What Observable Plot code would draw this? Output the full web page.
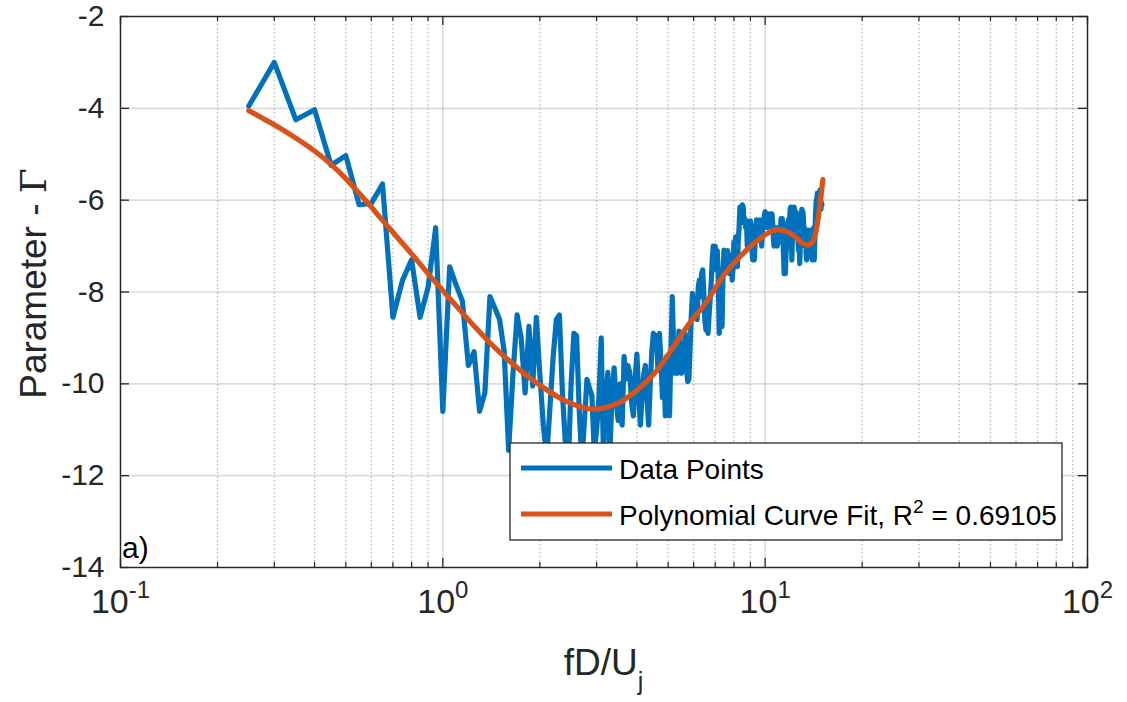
<!DOCTYPE html>
<html>
<head>
<meta charset="utf-8">
<script src="https://cdn.jsdelivr.net/npm/d3@7"></script>
<script src="https://cdn.jsdelivr.net/npm/@observablehq/plot@0.6"></script>
<style>
  html, body { margin: 0; padding: 0; background: #fff; }
  #chart svg { display: block; }
</style>
</head>
<body>
<div id="chart"></div>
<script>
// ---------- data ----------
const freq = [
  0.25,0.3,0.35,0.4,0.45,0.5,0.55,0.6,0.65,0.7,0.75,0.8,0.85,0.9,0.95,
  1,1.05,1.1,1.15,1.2,1.25,1.3,1.35,1.4,1.45,1.5,1.55,1.6,1.65,1.7,1.75,1.8,1.85,1.9,1.95,
  2,2.05,2.1,2.15,2.2,2.25,2.3,2.35,2.4,2.45,2.5,2.55,2.6,2.65,2.7,2.75,2.8,2.85,2.9,2.95,
  3,3.05,3.1,3.15,3.2,3.25,3.3,3.35,3.4,3.45,3.5,3.55,3.6,3.65,3.7,3.75,3.8,3.85,3.9,3.95,
  4,4.05,4.1,4.15,4.2,4.25,4.3,4.35,4.4,4.45,4.5,4.55,4.6,4.65,4.7,4.75,4.8,4.85,4.9,4.95,
  5,5.05,5.1,5.15,5.2,5.25,5.3,5.35,5.4,5.45,5.5,5.55,5.6,5.65,5.7,5.75,5.8,5.85,5.9,5.95,
  6,6.05,6.1,6.15,6.2,6.25,6.3,6.35,6.4,6.45,6.5,6.55,6.6,6.65,6.7,6.75,6.8,6.85,6.9,6.95,
  7,7.05,7.1,7.15,7.2,7.25,7.3,7.35,7.4,7.45,7.5,7.55,7.6,7.65,7.7,7.75,7.8,7.85,7.9,7.95,
  8,8.05,8.1,8.15,8.2,8.25,8.3,8.35,8.4,8.45,8.5,8.55,8.6,8.65,8.7,8.75,8.8,8.85,8.9,8.95,
  9,9.05,9.1,9.15,9.2,9.25,9.3,9.35,9.4,9.45,9.5,9.55,9.6,9.65,9.7,9.75,9.8,9.85,9.9,9.95,
  10,10.05,10.1,10.15,10.2,10.25,10.3,10.35,10.4,10.45,10.5,10.55,10.6,10.65,10.7,10.75,10.8,10.85,10.9,10.95,
  11,11.05,11.1,11.15,11.2,11.25,11.3,11.35,11.4,11.45,11.5,11.55,11.6,11.65,11.7,11.75,11.8,11.85,11.9,11.95,
  12,12.05,12.1,12.15,12.2,12.25,12.3,12.35,12.4,12.45,12.5,12.55,12.6,12.65,12.7,12.75,12.8,12.85,12.9,12.95,
  13,13.05,13.1,13.15,13.2,13.25,13.3,13.35,13.4,13.45,13.5,13.55,13.6,13.65,13.7,13.75,13.8,13.85,13.9,13.95,
  14,14.05,14.1,14.15,14.2,14.25,14.3,14.35,14.4,14.45,14.5,14.55,14.6,14.65,14.7,14.75,14.8,14.85,14.9,14.95,
  15
];
const gamma = [
  -3.95,-3.0,-4.25,-4.03,-5.24,-5.03,-6.1,-6.07,-5.65,-8.55,-7.74,-7.3,-8.55,-7.9,-6.6,
  -10.6,-7.45,-7.85,-8.2,-9.6,-9.3,-10.6,-10.2,-8.1,-8.35,-8.6,-9.3,-11.45,-9.8,-8.5,-9.0,-10.2,-8.75,-10.05,-8.55,
  -9.8,-10.9,-11.6,-10.5,-9.4,-8.6,-8.5,-10.2,-11.3,-11.8,-10.0,-8.9,-8.95,-10.6,-11.7,-10.8,-9.9,-10.1,-10.25,-11.5,
  -11.0,-10.3,-9.0,-11.6,-10.4,-9.75,-11.5,-10.2,-9.65,-10.4,-10.8,-10.0,-10.9,-9.4,-9.9,-9.6,-9.75,-10.4,-10.7,-9.9,
  -9.35,-10.2,-10.9,-10.3,-9.8,-9.6,-10.3,-10.9,-10.0,-9.3,-8.9,-9.1,-8.95,-9.7,-8.9,-9.5,-10.3,-9.6,-10.7,-9.4,
  -10.0,-10.7,-9.3,-8.1,-9.2,-9.77,-9.5,-9.77,-8.85,-9.3,-9.77,-9.2,-9.48,-8.9,-9.7,-9.95,-9.9,-9.2,-8.5,-8.03,
  -8.4,-8.46,-8.2,-8.6,-7.9,-7.74,-8.1,-7.6,-7.52,-8.0,-8.6,-8.83,-8.3,-8.9,-8.5,-8.17,-7.8,-7.3,-7.0,-7.5,
  -7.0,-7.4,-7.1,-7.6,-8.9,-8.5,-8.0,-8.75,-7.6,-7.09,-7.3,-7.2,-7.45,-7.1,-7.3,-7.6,-7.45,-7.2,-7.74,-7.5,
  -6.9,-7.1,-6.8,-7.2,-7.45,-6.9,-6.6,-6.15,-6.4,-6.2,-6.1,-6.15,-6.5,-6.4,-6.6,-6.45,-7.0,-6.8,-6.5,-6.7,
  -6.45,-6.6,-7.1,-7.3,-6.9,-7.3,-7.0,-6.6,-6.43,-6.6,-6.45,-6.7,-6.5,-6.43,-6.8,-7.0,-6.7,-6.5,-6.6,-6.3,
  -6.25,-6.4,-6.3,-6.6,-6.35,-6.5,-6.3,-6.45,-6.3,-6.6,-6.3,-6.5,-6.8,-7.0,-6.7,-6.9,-6.6,-6.8,-7.0,-6.9,
  -6.8,-6.6,-6.9,-6.7,-6.4,-6.55,-6.4,-6.8,-7.2,-7.6,-7.5,-7.6,-7.2,-7.0,-6.5,-6.6,-6.43,-6.7,-6.5,-6.2,
  -6.15,-6.5,-7.3,-6.8,-6.2,-6.4,-6.15,-6.3,-6.5,-6.25,-6.3,-6.6,-6.4,-6.9,-7.1,-6.8,-7.38,-7.0,-6.6,-6.3,
  -6.2,-6.5,-6.25,-6.45,-6.8,-6.6,-7.0,-6.8,-7.2,-7.3,-7.0,-7.25,-6.9,-6.65,-7.0,-7.23,-6.8,-7.1,-6.65,-6.9,
  -7.3,-7.0,-7.25,-6.6,-7.3,-6.9,-6.5,-6.2,-6.0,-6.1,-5.85,-6.0,-5.9,-6.1,-5.82,-5.95,-5.78,-6.0,-6.2,-6.05,
  -6.1
];
const fitFreq = [0.25,0.3,0.35,0.4,0.45,0.5,0.55,0.6,0.65,0.7,0.8,0.9,1.0,1.1,1.25,1.5,1.75,2.0,2.4,2.9,
  3.5,4.0,4.6,5.3,5.8,6.6,7.5,8.3,9.2,10.3,10.9,11.8,12.5,13.0,13.6,14.0,14.3,14.6,14.85,15.1];
const fitGamma = [-4.05,-4.36,-4.65,-4.93,-5.22,-5.53,-5.85,-6.15,-6.44,-6.7,-7.17,-7.6,-7.97,-8.3,-8.74,-9.31,-9.72,-10.03,-10.37,-10.55,
  -10.42,-10.14,-9.72,-9.1,-8.7,-8.2,-7.6,-7.25,-6.95,-6.7,-6.64,-6.7,-6.82,-6.93,-6.98,-6.92,-6.75,-6.4,-6.0,-5.55];

const xMajor = [0.1, 1, 10, 100];
const xMinor = [0.2,0.3,0.4,0.5,0.6,0.7,0.8,0.9, 2,3,4,5,6,7,8,9, 20,30,40,50,60,70,80,90];
const yTicks = [-14, -12, -10, -8, -6, -4, -2];
const seriesNames = ["Data Points", "Polynomial Curve Fit, R"];
const rSquared = "0.69105";
const seriesColors = ["#0072BD", "#D95319"];
const panelTag = "a)";

// ---------- chart ----------
const W = 1127, H = 702;
const mL = 120, mR = 40, mT = 16, mB = 135;
const innerW = W - mL - mR, innerH = H - mT - mB;
const ink = "#262626";
const fontFamily = "'Liberation Sans', Arial, Helvetica, sans-serif";

const data = freq.map((f, i) => ({f, g: gamma[i]}));
const fit = fitFreq.map((f, i) => ({f, g: fitGamma[i]}));

const chart = Plot.plot({
  width: W, height: H,
  marginLeft: mL, marginRight: mR, marginTop: mT, marginBottom: mB,
  style: {fontFamily, fontSize: "30px", color: ink, background: "#fff", overflow: "visible"},
  x: {type: "log", domain: [0.1, 100], label: null},
  y: {domain: [-14, -2], label: null},
  marks: [
    Plot.gridX(xMinor, {stroke: ink, strokeOpacity: 0.35, strokeWidth: 1.2, strokeDasharray: "1.5,2.5"}),
    Plot.gridX(xMajor, {stroke: ink, strokeOpacity: 0.16, strokeWidth: 1.6}),
    Plot.gridY(yTicks, {stroke: ink, strokeOpacity: 0.16, strokeWidth: 1.6}),
    Plot.line(data, {x: "f", y: "g", stroke: seriesColors[0], strokeWidth: 5.2, strokeLinejoin: "round"}),
    Plot.line(fit, {x: "f", y: "g", stroke: seriesColors[1], strokeWidth: 5.2, curve: "catmull-rom"}),
    // inward tick marks on all four sides
    Plot.tickX(xMajor, {x: d => d, stroke: ink, strokeWidth: 1.3, insetTop: innerH - 9}),
    Plot.tickX(xMajor, {x: d => d, stroke: ink, strokeWidth: 1.3, insetBottom: innerH - 9}),
    Plot.tickX(xMinor, {x: d => d, stroke: ink, strokeWidth: 1.2, insetTop: innerH - 5}),
    Plot.tickX(xMinor, {x: d => d, stroke: ink, strokeWidth: 1.2, insetBottom: innerH - 5}),
    Plot.tickY(yTicks, {y: d => d, stroke: ink, strokeWidth: 1.3, insetRight: innerW - 9}),
    Plot.tickY(yTicks, {y: d => d, stroke: ink, strokeWidth: 1.3, insetLeft: innerW - 9}),
    // tick labels
    Plot.axisX(xMajor, {anchor: "bottom", tickSize: 0, tickPadding: 21, fontSize: 34, label: null,
      tickFormat: d => String(Math.round(Math.log10(d)))}),
    Plot.axisY(yTicks, {anchor: "left", tickSize: 0, tickPadding: 16, fontSize: 30, label: null,
      tickFormat: d => String(d)}),
    Plot.frame({stroke: ink, strokeWidth: 1.4})
  ]
});
document.getElementById("chart").append(chart);

const svg = d3.select(chart);

// superscript exponents on the log axis labels
svg.selectAll('g[aria-label="x-axis tick label"] text').each(function () {
  const e = this.textContent;
  const t = d3.select(this);
  t.text(null);
  t.append("tspan").text("10");
  t.append("tspan").attr("dy", -15).attr("font-size", "24px").text(e);
});

// axis titles
const yl = svg.append("text")
  .attr("transform", `translate(46,${mT + innerH / 2 - 8}) rotate(-90)`)
  .attr("text-anchor", "middle")
  .attr("font-family", fontFamily).attr("font-size", 37).attr("fill", ink);
yl.append("tspan").text("Parameter - ");
yl.append("tspan").attr("font-family", "'DejaVu Serif', 'Liberation Serif', serif").attr("font-size", 36).text("Γ");

const xl = svg.append("text")
  .attr("x", mL + innerW / 2).attr("y", 675)
  .attr("text-anchor", "middle")
  .attr("font-family", fontFamily).attr("font-size", 37).attr("fill", ink);
xl.append("tspan").text("fD/U");
xl.append("tspan").attr("dy", 15).attr("font-size", 25).text("j");

// panel tag
svg.append("text").attr("x", mL + 2).attr("y", mT + innerH - 9)
  .attr("text-anchor", "start")
  .attr("font-family", fontFamily).attr("font-size", 30).attr("fill", "#000").text(panelTag);

// legend box
const lg = svg.append("g").attr("font-family", fontFamily).attr("font-size", 28)
  .attr("fill", "#000").attr("text-anchor", "start");
lg.append("rect").attr("x", 510).attr("y", 443).attr("width", 552).attr("height", 97)
  .attr("fill", "#fff").attr("stroke", ink).attr("stroke-width", 1.3);
const rowsY = [468, 514];
seriesNames.forEach((name, i) => {
  lg.append("line").attr("x1", 521).attr("x2", 612).attr("y1", rowsY[i]).attr("y2", rowsY[i])
    .attr("stroke", seriesColors[i]).attr("stroke-width", 5);
  const t = lg.append("text").attr("x", 619).attr("y", rowsY[i] + 11).attr("text-anchor", "start");
  t.append("tspan").text(name);
  if (i === 1) {
    t.append("tspan").attr("dy", -12).attr("font-size", 19).text("2");
    t.append("tspan").attr("dy", 12).text(" = " + rSquared);
  }
});
</script>
</body>
</html>
